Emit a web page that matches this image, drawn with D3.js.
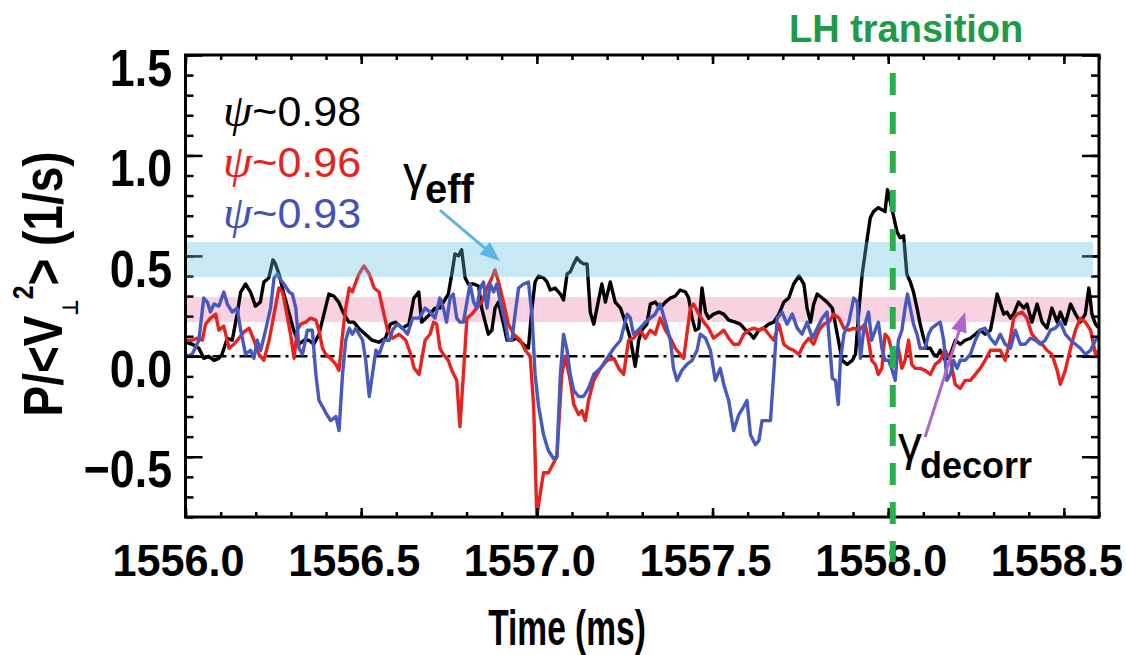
<!DOCTYPE html>
<html><head><meta charset="utf-8">
<script src="https://cdn.jsdelivr.net/npm/d3@7"></script>
<style>
html,body{margin:0;padding:0;background:#fff;}
svg{display:block;}
text{font-family:"Liberation Sans",Arial,sans-serif;}
</style></head><body>
<svg id="chart" width="1126" height="655"></svg>
<script>
// ---------- data ----------
const xTicks = [1556.0, 1556.5, 1557.0, 1557.5, 1558.0, 1558.5];
const yTicks = [1.5, 1.0, 0.5, 0.0, -0.5];
const seriesLabels = ["0.98", "0.96", "0.93"];
const bandEff = [0.395, 0.569];
const bandDecorr = [0.171, 0.295];
const lhTime = 1558.013;

const black = [
[1556.000,0.07],[1556.019,0.06],[1556.038,0.04],[1556.052,-0.01],[1556.066,0.00],[1556.081,-0.02],[1556.095,-0.01],[1556.104,0.01],[1556.119,0.09],[1556.133,0.08],[1556.147,0.21],[1556.157,0.32],[1556.171,0.36],[1556.185,0.32],[1556.199,0.25],[1556.213,0.27],[1556.223,0.37],[1556.237,0.39],[1556.249,0.48],[1556.256,0.46],[1556.266,0.41],[1556.280,0.31],[1556.294,0.22],[1556.308,0.13],[1556.323,0.06],[1556.337,0.08],[1556.351,0.08],[1556.365,0.06],[1556.380,0.11],[1556.394,0.21],[1556.408,0.31],[1556.422,0.30],[1556.436,0.27],[1556.451,0.21],[1556.465,0.17],[1556.479,0.17],[1556.493,0.14],[1556.512,0.11],[1556.531,0.08],[1556.550,0.07],[1556.569,0.09],[1556.583,0.16],[1556.598,0.17],[1556.617,0.14],[1556.636,0.16],[1556.650,0.29],[1556.664,0.32],
[1556.672,0.17],[1556.696,0.21],[1556.710,0.24],[1556.724,0.24],[1556.734,0.27],[1556.748,0.31],[1556.758,0.41],[1556.767,0.51],[1556.777,0.50],[1556.786,0.53],[1556.796,0.39],[1556.805,0.36],[1556.820,0.36],[1556.834,0.35],[1556.843,0.24],[1556.853,0.17],[1556.862,0.11],[1556.872,0.13],[1556.881,0.24],[1556.891,0.27],[1556.905,0.16],[1556.915,0.08],[1556.929,0.08],[1556.943,0.09],[1556.962,0.06],[1556.976,0.04],[1556.986,0.24],[1556.995,0.37],[1557.005,0.40],[1557.019,0.39],[1557.029,0.37],[1557.038,0.33],[1557.052,0.34],[1557.067,0.31],[1557.076,0.28],[1557.086,0.41],[1557.095,0.42],[1557.105,0.46],[1557.114,0.49],[1557.124,0.47],[1557.133,0.46],[1557.143,0.46],[1557.152,0.22],[1557.162,0.16],[1557.171,0.24],[1557.185,0.36],[1557.195,0.27],[1557.209,0.37],[1557.223,0.27],[1557.238,0.24],[1557.252,0.17],[1557.266,0.09],[1557.280,-0.05],
[1557.290,0.08],[1557.299,0.13],[1557.313,0.16],[1557.323,0.26],[1557.337,0.27],[1557.351,0.24],[1557.366,0.27],[1557.380,0.29],[1557.394,0.30],[1557.408,0.33],[1557.423,0.32],[1557.432,0.29],[1557.442,0.19],[1557.451,0.13],[1557.461,0.14],[1557.470,0.34],[1557.480,0.22],[1557.489,0.19],[1557.503,0.21],[1557.518,0.22],[1557.532,0.21],[1557.546,0.18],[1557.565,0.17],[1557.579,0.16],[1557.594,0.13],[1557.608,0.11],[1557.617,0.09],[1557.632,0.13],[1557.646,0.14],[1557.660,0.16],[1557.674,0.17],[1557.689,0.21],[1557.703,0.27],[1557.717,0.29],[1557.731,0.36],[1557.746,0.40],[1557.760,0.36],[1557.769,0.24],[1557.779,0.17],[1557.788,0.26],[1557.798,0.31],[1557.812,0.29],[1557.826,0.27],[1557.841,0.24],[1557.855,0.11],[1557.869,-0.02],[1557.883,-0.04],[1557.898,-0.02],[1557.907,0.01],[1557.917,0.24],[1557.926,0.41],
[1557.939,0.57],[1557.949,0.69],[1557.958,0.72],[1557.972,0.74],[1557.982,0.73],[1557.991,0.72],[1557.998,0.83],[1558.006,0.77],[1558.015,0.70],[1558.025,0.62],[1558.034,0.59],[1558.044,0.60],[1558.053,0.41],[1558.063,0.37],[1558.072,0.32],[1558.082,0.24],[1558.091,0.16],[1558.101,0.09],[1558.110,0.04],[1558.120,0.04],[1558.129,0.01],[1558.139,0.00],[1558.148,0.03],[1558.162,-0.02],[1558.177,0.01],[1558.191,0.08],[1558.205,0.06],[1558.219,0.08],[1558.234,0.09],[1558.248,0.11],[1558.262,0.13],[1558.276,0.11],[1558.291,0.13],[1558.300,0.21],[1558.310,0.31],[1558.319,0.26],[1558.329,0.21],[1558.338,0.22],[1558.348,0.19],[1558.357,0.21],[1558.371,0.27],[1558.386,0.24],[1558.395,0.26],[1558.409,0.17],[1558.424,0.26],[1558.438,0.17],[1558.452,0.14],[1558.466,0.24],[1558.481,0.17],[1558.490,0.22],[1558.504,0.16],[1558.519,0.26],[1558.533,0.21],[1558.547,0.17],[1558.561,0.21],[1558.571,0.34],[1558.580,0.21],[1558.590,0.16],[1558.600,0.14]
];

const red = [
[1556.000,0.08],[1556.019,0.08],[1556.033,0.09],[1556.048,0.08],[1556.057,0.16],[1556.071,0.19],[1556.086,0.21],[1556.095,0.13],[1556.109,0.15],[1556.124,0.04],[1556.138,0.06],[1556.152,0.09],[1556.166,0.12],[1556.181,0.14],[1556.195,0.08],[1556.209,0.01],[1556.223,-0.02],[1556.238,0.08],[1556.252,0.21],[1556.266,0.34],[1556.276,0.32],[1556.285,0.24],[1556.299,0.11],[1556.309,-0.01],[1556.318,0.13],[1556.328,0.16],[1556.342,0.17],[1556.356,0.19],[1556.371,0.18],[1556.380,0.13],[1556.390,0.04],[1556.399,0.01],[1556.413,-0.01],[1556.428,-0.04],[1556.437,-0.07],[1556.447,0.11],[1556.456,0.24],[1556.466,0.34],[1556.475,0.32],[1556.485,0.37],[1556.494,0.41],[1556.508,0.45],[1556.523,0.41],[1556.537,0.34],[1556.551,0.32],[1556.561,0.24],[1556.575,0.13],[1556.589,0.09],[1556.608,0.11],[1556.627,0.08],[1556.641,0.01],[1556.651,-0.06],[1556.665,-0.09],
[1556.682,0.08],[1556.696,0.11],[1556.706,0.17],[1556.715,0.16],[1556.724,0.04],[1556.734,0.01],[1556.748,-0.02],[1556.758,-0.07],[1556.772,-0.12],[1556.781,-0.35],[1556.791,-0.09],[1556.801,0.19],[1556.815,0.21],[1556.829,0.24],[1556.843,0.27],[1556.858,0.34],[1556.872,0.39],[1556.881,0.43],[1556.891,0.37],[1556.905,0.27],[1556.919,0.16],[1556.934,0.11],[1556.953,0.08],[1556.967,0.03],[1556.981,0.00],[1556.991,-0.25],[1557.000,-0.80],[1557.010,-0.68],[1557.019,-0.58],[1557.033,-0.58],[1557.048,-0.53],[1557.057,-0.50],[1557.071,-0.09],[1557.081,0.00],[1557.095,-0.12],[1557.105,-0.24],[1557.119,-0.29],[1557.128,-0.27],[1557.138,-0.32],[1557.147,-0.22],[1557.162,-0.12],[1557.181,-0.06],[1557.200,-0.02],[1557.219,-0.01],[1557.233,-0.06],[1557.247,-0.09],[1557.261,0.08],[1557.275,0.09],[1557.294,0.13],
[1557.309,0.09],[1557.323,0.13],[1557.337,0.11],[1557.351,0.19],[1557.366,0.13],[1557.380,0.09],[1557.394,0.04],[1557.408,0.01],[1557.418,-0.01],[1557.427,0.11],[1557.437,0.24],[1557.446,0.26],[1557.461,0.21],[1557.475,0.17],[1557.489,0.14],[1557.503,0.09],[1557.518,0.11],[1557.532,0.13],[1557.546,0.09],[1557.560,0.06],[1557.575,0.06],[1557.589,0.11],[1557.603,0.13],[1557.617,0.14],[1557.632,0.13],[1557.646,0.14],[1557.660,0.11],[1557.674,0.08],[1557.689,0.16],[1557.703,0.06],[1557.717,0.04],[1557.731,0.03],[1557.746,0.01],[1557.760,0.06],[1557.774,0.09],[1557.788,0.06],[1557.803,0.13],[1557.817,0.16],[1557.831,0.17],[1557.845,0.21],[1557.860,0.19],[1557.874,0.14],[1557.888,0.13],[1557.902,0.14],[1557.917,0.13],
[1557.934,0.16],[1557.944,0.08],[1557.953,-0.02],[1557.963,-0.04],[1557.972,-0.09],[1557.982,-0.06],[1557.991,0.11],[1558.001,0.09],[1558.010,0.03],[1558.020,0.01],[1558.029,0.04],[1558.039,-0.06],[1558.048,-0.02],[1558.058,0.08],[1558.067,-0.04],[1558.077,-0.06],[1558.091,-0.06],[1558.105,-0.07],[1558.120,-0.09],[1558.134,-0.04],[1558.148,-0.02],[1558.162,0.03],[1558.177,-0.02],[1558.191,-0.14],[1558.205,-0.16],[1558.219,-0.12],[1558.234,-0.12],[1558.248,-0.09],[1558.262,-0.06],[1558.276,-0.02],[1558.291,0.03],[1558.305,0.03],[1558.319,0.03],[1558.333,-0.02],[1558.348,0.09],[1558.357,0.19],[1558.367,0.21],[1558.381,0.22],[1558.395,0.19],[1558.409,0.11],[1558.424,0.08],[1558.438,0.06],[1558.452,0.03],[1558.466,0.01],[1558.481,-0.07],[1558.490,-0.14],[1558.504,-0.07],[1558.519,0.04],[1558.533,0.13],[1558.547,0.19],[1558.561,0.17],[1558.576,0.13],[1558.590,0.01],[1558.600,0.03]
];

const blue = [
[1556.000,0.00],[1556.019,0.01],[1556.038,0.08],[1556.052,0.29],[1556.062,0.27],[1556.071,0.22],[1556.081,0.26],[1556.095,0.25],[1556.109,0.32],[1556.119,0.26],[1556.133,0.22],[1556.147,0.24],[1556.157,0.13],[1556.171,0.01],[1556.185,0.03],[1556.195,-0.01],[1556.204,0.08],[1556.214,0.03],[1556.228,0.13],[1556.242,0.24],[1556.252,0.39],[1556.261,0.41],[1556.271,0.38],[1556.280,0.36],[1556.295,0.32],[1556.304,0.31],[1556.314,0.24],[1556.323,0.04],[1556.333,0.01],[1556.347,0.13],[1556.361,0.13],[1556.371,-0.09],[1556.380,-0.22],[1556.390,-0.25],[1556.399,-0.28],[1556.413,-0.32],[1556.428,-0.30],[1556.437,-0.37],[1556.447,-0.09],[1556.456,0.08],[1556.466,0.14],[1556.475,0.11],[1556.485,0.14],[1556.494,0.11],[1556.504,0.08],[1556.513,-0.02],[1556.523,-0.20],[1556.532,-0.09],[1556.542,0.03],[1556.551,0.01],[1556.565,0.08],[1556.580,0.08],[1556.589,0.13],[1556.603,0.16],[1556.618,0.14],[1556.632,0.11],[1556.646,0.19],[1556.665,0.19],
[1556.682,0.24],[1556.696,0.22],[1556.710,0.19],[1556.724,0.29],[1556.734,0.24],[1556.743,0.17],[1556.753,0.29],[1556.762,0.31],[1556.772,0.19],[1556.781,0.17],[1556.791,0.17],[1556.801,0.27],[1556.810,0.36],[1556.820,0.27],[1556.829,0.24],[1556.839,0.34],[1556.848,0.37],[1556.858,0.24],[1556.867,0.36],[1556.877,0.32],[1556.886,0.36],[1556.896,0.27],[1556.910,0.17],[1556.919,0.08],[1556.929,0.08],[1556.938,0.21],[1556.948,0.34],[1556.962,0.36],[1556.976,0.37],[1556.986,0.21],[1556.995,-0.09],[1557.005,-0.25],[1557.019,-0.39],[1557.033,-0.47],[1557.048,-0.51],[1557.057,-0.50],[1557.067,-0.09],[1557.076,0.11],[1557.086,0.03],[1557.095,-0.09],[1557.105,-0.17],[1557.119,-0.20],[1557.133,-0.20],[1557.147,-0.16],[1557.162,-0.09],[1557.181,-0.06],[1557.200,-0.01],[1557.219,0.04],[1557.238,0.08],[1557.257,0.21],[1557.266,0.19],[1557.275,0.11],[1557.294,0.14],
[1557.309,0.17],[1557.323,0.19],[1557.337,0.21],[1557.351,0.26],[1557.366,0.17],[1557.380,0.08],[1557.389,-0.06],[1557.399,-0.12],[1557.413,-0.07],[1557.427,-0.04],[1557.442,-0.02],[1557.456,0.03],[1557.465,0.11],[1557.480,0.09],[1557.494,0.03],[1557.508,-0.12],[1557.522,-0.06],[1557.532,-0.14],[1557.546,-0.22],[1557.560,-0.37],[1557.575,-0.29],[1557.589,-0.25],[1557.598,-0.22],[1557.608,-0.39],[1557.622,-0.44],[1557.632,-0.42],[1557.641,-0.32],[1557.655,-0.32],[1557.665,-0.32],[1557.674,-0.09],[1557.684,0.19],[1557.698,0.22],[1557.712,0.16],[1557.727,0.21],[1557.741,0.14],[1557.755,0.11],[1557.769,0.17],[1557.784,0.09],[1557.798,0.14],[1557.812,0.19],[1557.826,0.22],[1557.841,-0.11],[1557.850,-0.12],[1557.858,-0.24],[1557.864,-0.02],[1557.874,0.11],[1557.888,0.17],[1557.902,0.29],[1557.912,0.27],[1557.921,-0.01],[1557.931,0.14],
[1557.944,0.22],[1557.953,0.08],[1557.963,0.13],[1557.972,0.17],[1557.982,0.04],[1557.991,-0.02],[1558.001,-0.02],[1558.010,-0.06],[1558.020,-0.12],[1558.029,0.08],[1558.039,0.13],[1558.048,0.24],[1558.055,0.31],[1558.063,0.24],[1558.072,0.16],[1558.082,0.11],[1558.091,0.04],[1558.105,0.04],[1558.115,0.11],[1558.124,0.14],[1558.139,0.16],[1558.148,0.17],[1558.158,0.08],[1558.167,-0.12],[1558.177,-0.09],[1558.186,-0.02],[1558.196,-0.06],[1558.205,-0.02],[1558.219,-0.02],[1558.234,0.01],[1558.248,0.08],[1558.262,0.13],[1558.276,0.14],[1558.291,0.09],[1558.305,0.06],[1558.319,0.11],[1558.333,0.06],[1558.348,0.04],[1558.362,0.13],[1558.376,0.06],[1558.390,0.06],[1558.405,0.09],[1558.419,0.08],[1558.433,0.06],[1558.447,0.08],[1558.462,0.13],[1558.476,0.14],[1558.490,0.17],[1558.504,0.11],[1558.519,0.08],[1558.533,0.06],[1558.547,0.04],[1558.561,0.01],[1558.576,0.03],[1558.590,0.08],[1558.600,0.10]
];

// ---------- layout ----------
const L = 185.5, R = 1099, T = 55, B = 517;
const x = d3.scaleLinear().domain([1556.0, 1558.6]).range([L, R]);
const y = d3.scaleLinear().domain([-0.8, 1.5]).range([B, T]);
const colors = {black: "#000000", red: "#e8231f", blue: "#4759bd"};

const svg = d3.select("#chart");
svg.append("defs").append("clipPath").attr("id", "plotclip")
  .append("rect").attr("x", L).attr("y", T).attr("width", R - L).attr("height", B - T);

// pink band (under the lines)
svg.append("rect")
  .attr("x", x(1556.0)).attr("width", x(1558.583) - x(1556.0))
  .attr("y", y(bandDecorr[1])).attr("height", y(bandDecorr[0]) - y(bandDecorr[1]))
  .attr("fill", "#f8d2e0");

// zero line dash-dot
svg.append("line")
  .attr("x1", x(1556.0)).attr("x2", x(1558.6)).attr("y1", y(0)).attr("y2", y(0))
  .attr("stroke", "#000").attr("stroke-width", 2.5).attr("stroke-dasharray", "14,5,3,5");

// series
const line = d3.line().x(d => x(d[0])).y(d => y(d[1]));
const plot = svg.append("g").attr("clip-path", "url(#plotclip)");
[[black, colors.black], [red, colors.red], [blue, colors.blue]].forEach(([data, c]) => {
  plot.append("path").datum(data).attr("d", line)
    .attr("fill", "none").attr("stroke", c).attr("stroke-width", 3.4)
    .attr("stroke-linejoin", "round").attr("stroke-linecap", "round");
});

// axes ticks (inward)
function styleAxis(g) {
  g.select(".domain").remove();
  g.selectAll(".tick line").attr("stroke", "#000").attr("stroke-width", 2.5);
  g.selectAll(".tick text").remove();
}
const minorX = x.ticks(26), minorY = y.ticks(23);
svg.append("g").attr("transform", `translate(0,${B})`).call(d3.axisBottom(x).tickValues(minorX).tickSize(-5)).call(styleAxis);
svg.append("g").attr("transform", `translate(0,${B})`).call(d3.axisBottom(x).tickValues(xTicks).tickSize(-9)).call(styleAxis);
svg.append("g").attr("transform", `translate(0,${T})`).call(d3.axisTop(x).tickValues(minorX).tickSize(-5)).call(styleAxis);
svg.append("g").attr("transform", `translate(0,${T})`).call(d3.axisTop(x).tickValues(xTicks).tickSize(-9)).call(styleAxis);
svg.append("g").attr("transform", `translate(${L},0)`).call(d3.axisLeft(y).tickValues(minorY).tickSize(-8)).call(styleAxis);
svg.append("g").attr("transform", `translate(${L},0)`).call(d3.axisLeft(y).tickValues(yTicks).tickSize(-17)).call(styleAxis);
svg.append("g").attr("transform", `translate(${R},0)`).call(d3.axisRight(y).tickValues(minorY).tickSize(-8)).call(styleAxis);
svg.append("g").attr("transform", `translate(${R},0)`).call(d3.axisRight(y).tickValues(yTicks).tickSize(-17)).call(styleAxis);

// blue band (translucent overlay on top of lines and ticks)
svg.append("rect")
  .attr("x", x(1556.0) + 1.5).attr("width", x(1558.583) - x(1556.0) - 1.5)
  .attr("y", y(bandEff[1])).attr("height", y(bandEff[0]) - y(bandEff[1]))
  .attr("fill", "rgb(91,192,222)").attr("opacity", 0.35);

// frame
svg.append("rect").attr("x", L).attr("y", T).attr("width", R - L).attr("height", B - T)
  .attr("fill", "none").attr("stroke", "#000").attr("stroke-width", 3);

// tick labels
const fmt = d3.format(".1f");
svg.append("g").selectAll("g").data(xTicks).join("g")
  .attr("transform", d => `translate(${x(d) - 7},576) scale(0.96,1)`)
  .append("text").attr("text-anchor", "middle").attr("font-size", 45).attr("font-weight", "bold")
  .text(d => fmt(d));
svg.append("g").selectAll("g").data(yTicks).join("g")
  .attr("transform", d => `translate(172,${y(d) + 12}) scale(0.86,1)`)
  .append("text").attr("text-anchor", "end").attr("dy", "0.36em")
  .attr("font-size", 52).attr("font-weight", "bold")
  .text(d => fmt(d));

// axis titles
svg.append("text")
  .attr("transform", "translate(567,645) scale(0.67,1)")
  .attr("text-anchor", "middle").attr("font-size", 50).attr("font-weight", "bold")
  .text("Time (ms)");
const yt = svg.append("text")
  .attr("transform", "translate(62,284) rotate(-90) scale(0.82,1)")
  .attr("text-anchor", "middle").attr("font-size", 56).attr("font-weight", "bold");
yt.append("tspan").text("P/<V");
yt.append("tspan").attr("font-size", 22).attr("dy", 16).attr("font-family", "DejaVu Sans").text("⊥");
yt.append("tspan").attr("font-size", 30).attr("dy", -45).text("2");
yt.append("tspan").attr("dy", 29).text("> (1/s)");

// legend
const legendColors = [colors.black, colors.red, "#4452b8"];
const legendBase = [1.146, 0.893, 0.639];
seriesLabels.forEach((s, i) => {
  const t = svg.append("text").attr("x", x(1556.107)).attr("y", y(legendBase[i]))
    .attr("fill", legendColors[i]).attr("font-size", 43);
  t.append("tspan").attr("font-family", "Liberation Serif").attr("font-style", "italic").attr("font-size", 47).text("ψ");
  t.append("tspan").text("~" + s);
});

// gamma annotations
const ge = svg.append("text").attr("x", x(1556.619)).attr("y", y(0.828)).attr("font-size", 48);
ge.append("tspan").text("γ");
ge.append("tspan").attr("font-size", 40).attr("font-weight", "bold").attr("dy", 13).attr("dx", -2).text("eff");

const gd = svg.append("text").attr("x", x(1558.028)).attr("y", y(-0.516)).attr("font-size", 48);
gd.append("tspan").text("γ");
gd.append("tspan").attr("font-size", 36).attr("font-weight", "bold").attr("dy", 18).attr("dx", -2).text("decorr");

// arrows
function arrow(p0, p1, color) {
  const x0 = x(p0[0]), y0 = y(p0[1]), x1 = x(p1[0]), y1 = y(p1[1]);
  const dx = x1 - x0, dy = y1 - y0, len = Math.hypot(dx, dy);
  const ux = dx / len, uy = dy / len, hl = 20, hw = 8;
  const bx = x1 - ux * hl, by = y1 - uy * hl;
  svg.append("line").attr("x1", x0).attr("y1", y0).attr("x2", bx + ux * 2).attr("y2", by + uy * 2)
    .attr("stroke", color).attr("stroke-width", 3);
  svg.append("path")
    .attr("d", `M${x1},${y1}L${bx - uy * hw},${by + ux * hw}L${bx + uy * hw},${by - ux * hw}Z`)
    .attr("fill", color);
}
arrow([1556.724, 0.728], [1556.895, 0.474], "#5cb6e4");
arrow([1558.105, -0.402], [1558.219, 0.220], "#b065c8");

// LH transition
svg.append("line")
  .attr("x1", x(lhTime)).attr("x2", x(lhTime)).attr("y1", y(1.41)).attr("y2", y(-1.024))
  .attr("stroke", "#27b04b").attr("stroke-width", 6).attr("stroke-dasharray", "22,17");
svg.append("text").attr("x", x(1558.051)).attr("y", y(1.565))
  .attr("text-anchor", "middle").attr("font-size", 38).attr("font-weight", "bold")
  .attr("fill", "#1f9a48").text("LH transition");
</script>
</body></html>
